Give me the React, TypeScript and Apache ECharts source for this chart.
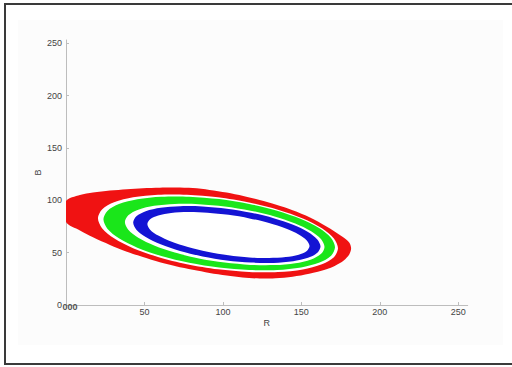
import React, { useEffect, useRef } from "react";
import * as echarts from "echarts";

// Axis ticks
const X_TICKS = [0, 50, 100, 150, 200, 250];
const Y_TICKS = [0, 50, 100, 150, 200, 250];
// Third (G) axis tick labels collapse onto the origin in this view
const G_LABEL = "000";

// Contours of the rings in (R, B)
const RED_OUTER = [
  [0, 99.2], [8.9, 105.0], [17.2, 107.4], [28.0, 109.3], [38.8, 110.6], [49.0, 111.5], [59.8, 112.0],
  [70.0, 112.1], [80.8, 111.6], [91.5, 109.8], [102.4, 107.3], [113.0, 104.0], [123.4, 100.2],
  [134.0, 95.6], [144.4, 90.4], [155.5, 83.6], [166.0, 75.0], [176.2, 65.2], [180.6, 59.5],
  [181.7, 54.1], [180.6, 48.5], [177.0, 42.5], [171.5, 37.5], [166.0, 34.2], [155.0, 29.8], [144.4, 27.0],
  [133.5, 25.6], [123.4, 25.3], [112.5, 26.2], [102.4, 28.1], [91.5, 30.6], [80.8, 33.6],
  [70.0, 37.0], [59.8, 40.8], [49.0, 45.8], [38.8, 50.9], [28.0, 57.3], [17.2, 64.6], [8.9, 71.2], [0, 79.2],
];
const RED_INNER = [
  [173.34, 54.11], [170.74, 63.5], [163.09, 73.21], [150.93, 82.59], [135.1, 91.01], [116.66, 97.89],
  [96.85, 102.77], [77.04, 105.31], [58.6, 105.33], [42.77, 102.83], [30.61, 97.99], [22.96, 91.14],
  [20.36, 82.73], [22.96, 73.34], [30.61, 63.63], [42.77, 54.25], [58.6, 45.83], [77.04, 38.95],
  [96.85, 34.07], [116.66, 31.53], [135.1, 31.51], [150.93, 34.01], [163.09, 38.85], [170.74, 45.7],
];
const GREEN_OUTER = [
  [171.43, 55.06], [168.92, 63.97], [161.54, 73.19], [149.81, 82.07], [134.54, 90.04], [116.75, 96.53],
  [97.64, 101.1], [78.53, 103.45], [60.74, 103.4], [45.47, 100.97], [33.74, 96.33], [26.36, 89.79],
  [23.85, 81.78], [26.36, 72.87], [33.74, 63.65], [45.47, 54.77], [60.74, 46.8], [78.53, 40.31],
  [97.64, 35.74], [116.75, 33.39], [134.54, 33.44], [149.81, 35.87], [161.54, 40.51], [168.92, 47.05],
];
const GREEN_INNER = [
  [164.75, 55.34], [162.59, 62.69], [156.23, 70.35], [146.11, 77.79], [132.95, 84.52], [117.61, 90.08],
  [101.14, 94.08], [84.67, 96.26], [69.33, 96.46], [56.17, 94.65], [46.05, 91.01], [39.69, 85.73],
  [37.53, 79.2], [39.69, 71.85], [46.05, 64.19], [56.17, 56.75], [69.33, 50.02], [84.67, 44.46],
  [101.14, 40.46], [117.61, 38.28], [132.95, 38.08], [146.11, 39.89], [156.23, 43.53], [162.59, 48.81],
];
const BLUE_OUTER = [
  [162.21, 55.82], [160.18, 62.6], [154.21, 69.69], [144.72, 76.61], [132.36, 82.9], [117.97, 88.13],
  [102.51, 91.94], [87.05, 94.07], [72.66, 94.36], [60.3, 92.81], [50.81, 89.53], [44.84, 84.72],
  [42.81, 78.72], [44.84, 71.94], [50.81, 64.85], [60.3, 57.93], [72.66, 51.64], [87.05, 46.41],
  [102.51, 42.6], [117.97, 40.47], [132.36, 40.18], [144.72, 41.73], [154.21, 45.01], [160.18, 49.82],
];
const BLUE_INNER = [
  [155.21, 56.29], [153.45, 61.64], [148.28, 67.34], [140.07, 72.99], [129.37, 78.23], [116.92, 82.68],
  [103.53, 86.06], [90.14, 88.12], [77.69, 88.73], [66.99, 87.83], [58.78, 85.52], [53.61, 81.92],
  [51.85, 77.29], [53.61, 71.94], [58.78, 66.24], [66.99, 60.59], [77.69, 55.35], [90.14, 50.9],
  [103.53, 47.52], [116.92, 45.46], [129.37, 44.85], [140.07, 45.75], [148.28, 48.06], [153.45, 51.66],
];

const CONTOURS = [RED_OUTER, RED_INNER, GREEN_OUTER, GREEN_INNER, BLUE_OUTER, BLUE_INNER];
const FILLS = ["#f01212", "#ffffff", "#1ae61a", "#ffffff", "#1414d4", "#ffffff"];

const FONT = "Liberation Sans, Arial, sans-serif";

export default function App() {
  const ref = useRef<HTMLDivElement>(null);
  useEffect(() => {
    if (!ref.current) return;
    const chart = echarts.init(ref.current, null, { renderer: "svg" });
    chart.setOption({
      animation: false,
      backgroundColor: "#ffffff",
      grid: { left: 66, right: 44.3, top: 40, bottom: 62, containLabel: false },
      xAxis: {
        type: "value",
        min: 0,
        max: 256,
        name: "R",
        nameLocation: "middle",
        nameGap: 13,
        nameMoveOverlap: false,
        nameTextStyle: { fontSize: 9, color: "#444", fontFamily: FONT },
        axisLine: { show: true, lineStyle: { color: "#bdbdbd", width: 1 } },
        axisTick: { show: true, inside: true, length: 3, lineStyle: { color: "#bdbdbd" }, customValues: X_TICKS },
        axisLabel: { customValues: X_TICKS.filter((v) => v > 0), fontSize: 9, color: "#444", margin: 2, fontFamily: FONT },
        splitLine: { show: false },
      },
      yAxis: {
        type: "value",
        min: 0,
        max: 253,
        name: "B",
        nameLocation: "middle",
        nameGap: 24,
        nameMoveOverlap: false,
        nameRotate: 90,
        nameTextStyle: { fontSize: 9, color: "#444", fontFamily: FONT },
        axisLine: { show: true, lineStyle: { color: "#bdbdbd", width: 1 } },
        axisTick: { show: true, inside: true, length: 3, lineStyle: { color: "#bdbdbd" }, customValues: Y_TICKS },
        axisLabel: { customValues: Y_TICKS, fontSize: 9, color: "#444", margin: 4, fontFamily: FONT },
        splitLine: { show: false },
      },
      graphic: [
        {
          type: "rect",
          z: -10,
          silent: true,
          shape: { x: 18, y: 20, width: 485, height: 325 },
          style: { fill: "#fcfcfc" },
        },
        {
          type: "rect",
          z: 30,
          silent: true,
          shape: { x: 5, y: 4, width: 530, height: 360 },
          style: { fill: "none", stroke: "#3a3a3a", lineWidth: 2 },
        },
        {
          type: "text",
          z: 20,
          silent: true,
          x: 62.5,
          y: 302,
          style: { text: G_LABEL, fill: "#555", font: `bold 9px ${FONT}` },
        },
      ],
      series: [
        {
          type: "custom",
          clip: true,
          data: CONTOURS.map((_, i) => [i]),
          renderItem: (params: any, api: any) => {
            const idx = params.dataIndex;
            const pts = CONTOURS[idx].map((p) => api.coord(p));
            return {
              type: "polygon",
              shape: { points: pts, smooth: 0.3 },
              style: { fill: FILLS[idx], stroke: null },
            };
          },
        },
      ],
    });
    return () => chart.dispose();
  }, []);
  return <div ref={ref} style={{ position: "fixed", left: 0, top: 0, width: 512, height: 367 }} />;
}
